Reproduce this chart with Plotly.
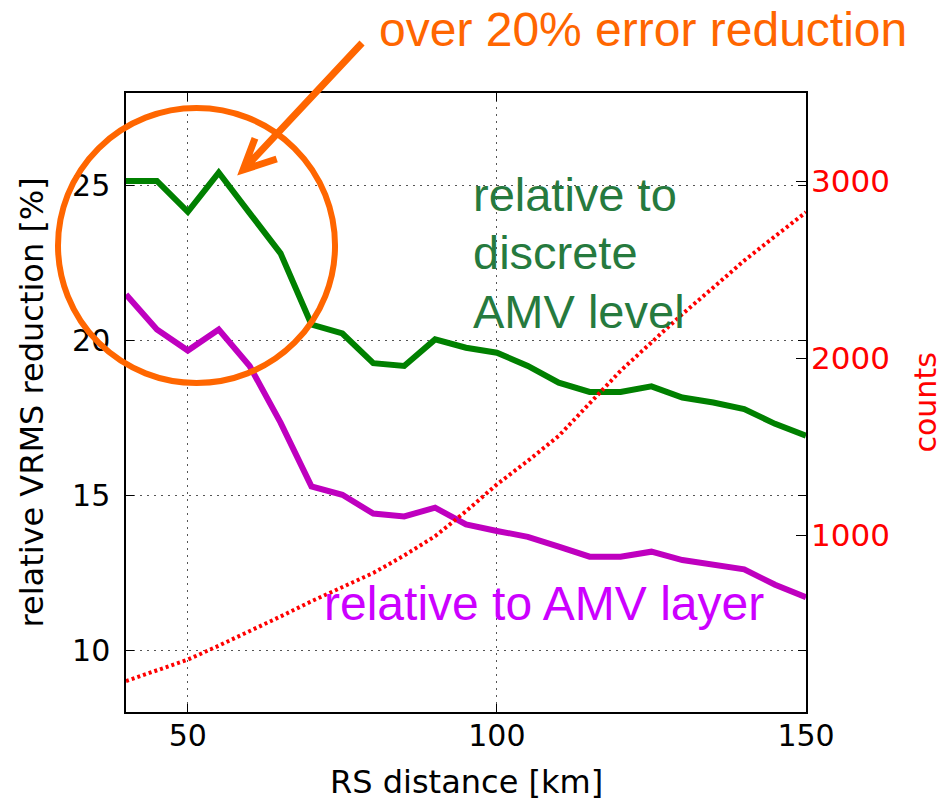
import plotly.graph_objects as go

# RS distance bins [km]
distance = [40, 45, 50, 55, 60, 65, 70, 75, 80, 85, 90, 95, 100,
            105, 110, 115, 120, 125, 130, 135, 140, 145, 150]

# relative VRMS reduction [%] w.r.t. the discrete AMV level
rel_level = [25.16, 25.16, 24.16, 25.43, 24.12, 22.82, 20.52, 20.23, 19.27, 19.18,
             20.04, 19.77, 19.61, 19.18, 18.64, 18.34, 18.34, 18.52, 18.16, 18.00,
             17.79, 17.31, 16.93]

# relative VRMS reduction [%] w.r.t. the AMV layer
rel_layer = [21.49, 20.36, 19.68, 20.36, 19.18, 17.35, 15.29, 15.02, 14.41, 14.32,
             14.60, 14.06, 13.85, 13.66, 13.34, 13.02, 13.02, 13.18, 12.91, 12.75,
             12.61, 12.11, 11.71]

# number of collocations per bin
counts = [175, 235, 296, 375, 456, 540, 626, 705, 786, 885, 994, 1135, 1287,
          1420, 1561, 1745, 1929, 2090, 2250, 2400, 2552, 2690, 2826]

left_ticks = [10, 15, 20, 25]
right_ticks = [1000, 2000, 3000]
x_ticks = [50, 100, 150]

ORANGE = "#FF6600"
TICK_FONT = dict(family="DejaVu Sans", size=30, color="black")
GRID = dict(showgrid=True, gridcolor="#555555", griddash="2px,5px", gridwidth=1.2)

fig = go.Figure()
fig.add_trace(go.Scatter(x=distance, y=counts, yaxis="y2", mode="lines",
                         line=dict(color="#FF0000", width=4, dash="3px,3px"),
                         showlegend=False))
fig.add_trace(go.Scatter(x=distance, y=rel_level, mode="lines",
                         line=dict(color="#008000", width=6),
                         showlegend=False))
fig.add_trace(go.Scatter(x=distance, y=rel_layer, mode="lines",
                         line=dict(color="#BF00BF", width=6),
                         showlegend=False))

fig.update_layout(
    width=944, height=801,
    margin=dict(l=126, r=138, t=93, b=89),
    paper_bgcolor="white", plot_bgcolor="white",
    xaxis=dict(range=[40, 150], tickvals=x_ticks, ticks="inside", ticklen=8,
               tickcolor="black", tickwidth=1.2, showline=True, linecolor="black",
               linewidth=1.5, mirror="ticks", zeroline=False, tickfont=TICK_FONT,
               ticklabelstandoff=-4, **GRID),
    yaxis=dict(range=[8, 28], tickvals=left_ticks, ticks="inside", ticklen=8,
               tickcolor="black", tickwidth=1.2, showline=True, linecolor="black",
               linewidth=1.5, mirror="ticks", zeroline=False, tickfont=TICK_FONT,
               ticklabelstandoff=8, **GRID),
    yaxis2=dict(range=[0, 3500], tickvals=right_ticks, overlaying="y", side="right",
                ticks="inside", ticklen=10, tickcolor="black", tickwidth=1.2,
                showgrid=False, zeroline=False, showline=False,
                tickfont=dict(family="DejaVu Sans", size=31, color="#FF0000"),
                ticklabelstandoff=4),
)

# axis titles
fig.add_annotation(text="RS distance [km]", xref="paper", yref="paper",
                   x=0.5, y=-0.113, xanchor="center", yanchor="middle",
                   showarrow=False,
                   font=dict(family="DejaVu Sans", size=32, color="black"))
fig.add_annotation(text="relative VRMS reduction [%]", xref="paper", yref="paper",
                   x=-0.1397, y=0.5, xanchor="center", yanchor="middle",
                   textangle=-90, showarrow=False,
                   font=dict(family="DejaVu Sans", size=32, color="black"))
fig.add_annotation(text="counts", xref="paper", yref="paper",
                   x=1.175, y=0.5, xanchor="center", yanchor="middle",
                   textangle=-90, showarrow=False, borderpad=0,
                   font=dict(family="DejaVu Sans", size=30, color="#FF0000"))

# series labels
LABEL_FONT = "Liberation Sans, Arial, sans-serif"
for txt, yy in [("relative to", 0.8368), ("discrete", 0.7431), ("AMV level", 0.6478)]:
    fig.add_annotation(text=txt, xref="paper", yref="paper", x=0.508, y=yy,
                       xanchor="left", yanchor="middle", showarrow=False,
                       font=dict(family=LABEL_FONT, size=47, color="#267A3E"))
fig.add_annotation(text="relative to AMV layer", xref="paper", yref="paper",
                   x=0.288, y=0.1745, xanchor="left", yanchor="middle",
                   showarrow=False,
                   font=dict(family=LABEL_FONT, size=48, color="#CC00FF"))

# highlight: headline, arrow and circle around the short-distance bins
fig.add_annotation(text="over 20% error reduction", xref="paper", yref="paper",
                   x=0.369, y=1.1018, xanchor="left", yanchor="middle",
                   showarrow=False,
                   font=dict(family=LABEL_FONT, size=48, color=ORANGE))
fig.add_shape(type="path", xref="paper", yref="paper", layer="above",
              path="M 0.3471 1.0808 L 0.1721 0.8756 M 0.1897 0.9268 L 0.1721 0.8756 L 0.2216 0.8934",
              line=dict(color=ORANGE, width=7))
fig.add_shape(type="circle", xref="paper", yref="paper", layer="above",
              x0=-0.1, x1=0.3074, y0=0.5315, y1=0.9758,
              line=dict(color=ORANGE, width=6))

fig.write_html("out.html")
